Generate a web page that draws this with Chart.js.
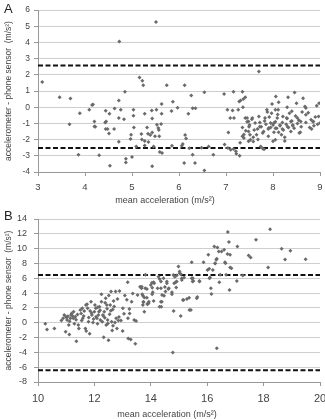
<!DOCTYPE html>
<html><head><meta charset="utf-8">
<script src="https://cdn.jsdelivr.net/npm/chart.js@4"></script>
<style>
html,body{margin:0;padding:0;background:#fff;}
body{width:325px;height:419px;position:relative;overflow:hidden;font-family:"Liberation Sans",Arial,sans-serif;}
.wrap{position:absolute;left:0;width:325px;}
.lbl{position:absolute;font-size:13px;color:#222;line-height:1;}
.xt{position:absolute;font-size:9px;color:#444;white-space:nowrap;transform:translateX(-50%);line-height:1;}
</style></head><body>
<div class="wrap" style="top:0;height:205px"><canvas id="ca" width="325" height="205"></canvas></div>
<div class="wrap" style="top:205px;height:214px"><canvas id="cb" width="325" height="214"></canvas></div>
<div class="lbl" style="left:4px;top:2px">A</div>
<div class="lbl" style="left:4px;top:209px">B</div>
<div class="xt" style="left:165px;top:196px">mean acceleration (m/s²)</div>
<div class="xt" style="left:167px;top:410px">mean acceleration (m/s²)</div>
<script>
// ---- Panel A data ----
const aX = [3.09,3.46,3.69,3.67,3.89,3.86,4.09,4.15,4.17,4.2,4.2,4.22,4.3,4.44,4.45,4.43,4.44,4.48,4.51,4.52,4.53,4.63,4.62,4.72,4.72,4.73,4.72,4.76,4.83,4.85,4.87,4.87,5.03,5.03,5.04,4.98,4.97,5.0,5.09,5.16,5.22,5.24,5.27,5.2,5.21,5.27,5.27,5.32,5.34,5.35,5.39,5.43,5.42,5.43,5.43,5.46,5.49,5.51,5.52,5.53,5.56,5.57,5.58,5.59,5.63,5.63,5.62,5.64,5.74,5.84,5.87,5.85,5.97,6.06,6.08,6.12,6.13,6.15,6.11,6.2,6.22,6.26,6.29,6.29,6.35,6.34,6.48,6.54,6.54,6.63,6.73,6.96,6.97,7.05,7.03,7.04,7.09,7.1,7.14,7.16,7.17,7.16,7.21,7.22,7.26,7.28,7.29,7.31,7.35,7.36,7.35,7.37,7.41,7.41,7.38,7.45,7.48,7.49,7.48,7.51,7.52,7.56,7.58,7.62,7.67,7.7,7.7,7.72,7.78,7.74,7.81,7.83,7.87,7.91,7.95,7.97,8.02,8.05,8.05,8.06,8.09,8.11,8.12,8.15,8.2,8.21,8.25,8.29,8.31,8.32,8.35,8.38,8.42,8.46,8.5,8.52,8.56,8.59,8.64,8.68,8.7,8.81,8.86,8.87,8.93,8.97,8.98,9.0,
7.45,7.5,7.55,7.6,7.65,7.72,7.75,7.8,7.82,7.85,7.9,7.92,7.95,8.0,8.02,8.05,8.08,8.1,8.15,8.18,8.2,8.22,8.28,8.3,8.33,8.38,8.4,8.42,8.45,8.48,8.52,8.55,8.6,8.62,8.7,8.75,8.78,8.85,8.9,8.95,7.38,7.42,7.48,7.58,7.68,7.78,7.35,7.3,7.9,8.0,8.25,8.3,8.05,7.98,7.88,8.12,8.4,8.7,8.58,8.82];
const aY = [1.56,0.62,0.54,-1.06,-0.37,-2.93,-0.16,0.13,0.17,-0.88,-1.19,-1.2,-2.97,-0.22,-0.88,-0.95,-1.35,-1.35,-1.62,-0.41,-3.61,-0.08,-1.35,0.41,-0.67,4.05,-2.13,-0.16,-0.74,0.96,-3.18,-3.42,-0.16,-0.53,-1.25,-1.7,-1.97,-3.08,-2.42,1.83,1.63,1.36,-0.41,-1.66,-1.99,-2.09,-2.36,-1.25,-1.64,-2.15,-1.72,-0.69,-0.2,-1.56,-3.65,-2.42,-1.8,5.26,-0.16,-1.08,-1.29,-1.4,-1.8,-2.77,0.19,-0.41,-1.04,-2.83,1.36,-0.24,0.33,-2.38,-0.04,-2.38,-2.27,1.36,-1.72,-1.93,-3.45,-0.41,-2.54,0.72,-0.06,-2.93,-0.06,-3.45,-2.5,0.93,-3.9,-2.42,-2.93,0.82,-2.3,-1.56,-0.16,-2.52,-0.67,-2.62,-0.2,0.95,-0.67,-2.58,-2.72,-2.87,-0.16,0.35,-2.99,0.41,0.95,0.0,-1.25,0.5,0.62,-0.67,-1.68,-0.67,-0.88,-1.2,-1.5,-1.7,-2.01,-0.67,-2.11,-0.98,-1.35,2.2,-0.57,-1.2,-1.6,-2.42,-2.6,-0.67,-0.16,-1.29,-0.98,-0.37,-0.98,-1.3,-2.01,0.66,-0.67,-0.16,-1.54,-1.1,-1.35,-0.57,-2.09,-0.67,-1.2,0.62,-0.37,-0.88,-1.15,0.91,0.25,-0.67,-1.6,-0.88,0.56,0.04,-0.47,-0.78,-0.88,-1.15,0.09,-0.57,0.25,-0.98,
-0.9,-1.1,-0.75,-1.4,-1.7,-0.95,-1.2,-1.5,-0.85,-1.05,-1.35,-0.6,-1.25,-1.1,-1.55,-0.9,-1.3,-0.45,-1.15,-1.7,-0.95,-1.4,-1.05,-0.7,-1.25,-1.5,-0.85,-1.1,-1.3,-0.55,-1.0,-0.8,-1.2,-0.3,-0.95,-0.35,-1.25,-0.9,-0.6,-1.05,-1.9,-1.45,-2.1,-1.85,-2.0,-2.55,-1.8,-2.2,-1.8,-2.1,-1.85,0.0,-0.15,0.2,-0.3,0.3,-0.25,-0.05,-1.55,-1.35];
const aLimits = [2.57, -2.52];
const aRange = [3, 9];

// ---- Panel B data ----
const bX = [10.26,10.32,10.58,10.83,10.89,10.93,10.98,10.99,11.03,11.06,11.09,11.11,11.15,11.17,11.19,11.26,11.32,11.29,11.36,11.43,11.45,11.5,11.53,11.57,11.59,11.64,11.68,11.7,11.71,11.74,11.76,11.79,11.83,11.85,11.88,11.91,11.95,11.97,12.0,12.02,12.05,12.09,12.11,12.14,12.16,12.18,12.21,12.25,12.25,12.28,12.3,12.33,12.35,12.37,12.4,12.42,12.44,12.47,12.48,12.5,12.51,12.54,12.56,12.59,12.61,12.63,12.66,12.68,12.73,12.75,12.77,12.8,12.85,12.87,12.89,12.94,13.0,13.01,13.05,13.08,13.15,13.18,13.19,13.2,13.24,13.25,13.29,13.32,13.36,13.41,13.45,13.48,13.53,13.62,13.67,13.7,13.72,13.74,13.77,13.81,13.86,13.88,13.93,14.0,14.05,14.1,14.12,14.24,14.31,14.36,14.4,14.45,14.5,14.52,14.57,14.64,14.75,14.78,14.81,14.83,14.88,14.9,14.92,14.98,15.02,15.06,15.1,15.14,15.18,15.28,15.37,15.45,15.49,15.51,15.63,15.73,15.87,16.01,16.04,16.08,16.13,16.15,16.2,16.25,16.28,16.32,16.34,16.36,16.41,16.46,16.51,16.6,16.65,16.67,16.73,16.77,16.79,16.81,16.86,17.05,17.07,17.26,17.47,17.54,17.73,18.16,18.23,18.64,18.76,18.95,19.49,
13.68,13.72,13.8,13.86,13.74,13.88,13.77,13.92,14.04,14.05,14.07,14.1,14.27,14.31,14.36,14.36,14.39,14.37,14.47,14.57,14.62,14.75,14.8,14.85,14.92,15.1,15.02,15.07,15.16,15.36,15.42,15.65,15.45,15.48,15.72,16.07,16.1,16.28,16.34,16.63,16.72,16.81,16.43,
11.02,11.12,11.22,11.35,11.4,11.62,11.8,11.9,12.06,12.12,12.2,12.32,12.45,12.58,12.7,12.82,11.55,11.25,12.38,12.65];
const bY = [-0.14,-0.9,-0.77,0.31,0.59,1.04,-1.22,0.81,0.36,0.86,-0.32,-1.58,0.59,1.04,1.26,1.49,0.81,-0.14,-2.49,-0.32,-0.77,1.71,1.26,1.94,0.59,1.58,-0.77,2.39,-1.13,2.48,1.94,0.13,-1.49,1.58,2.84,1.04,0.04,0.5,1.49,2.39,1.94,0.59,-0.14,1.04,1.49,2.17,0.36,3.84,2.84,0.13,1.04,-1.95,1.49,0.68,3.3,-0.32,2.39,0.36,-0.09,-2.35,3.66,1.13,2.39,4.2,0.13,-1.04,-0.41,2.93,0.04,4.2,0.59,-0.77,0.31,0.77,4.29,0.31,-1.13,1.94,1.22,3.66,3.11,5.46,0.59,-2.12,1.85,1.26,-2.26,2.84,3.93,0.36,-2.85,0.22,3.75,4.87,4.65,3.84,2.39,2.84,3.39,6.46,4.56,2.57,2.84,5.1,3.84,5.46,5.33,4.65,2.17,2.84,3.75,6.01,4.83,4.2,5.55,4.65,3.84,-4.02,1.58,5.33,5.46,4.74,6.37,7.59,6.68,0.9,5.78,3.07,6.1,3.2,1.71,8.17,6.01,5.64,3.3,5.55,8.17,7.13,9.17,6.01,4.65,3.88,7.13,10.3,7.99,8.49,-3.45,10.16,9.62,6.46,9.62,9.84,8.04,6.46,12.24,10.88,4.42,9.17,7.36,5.64,10.3,6.37,9.08,8.81,11.2,7.45,12.6,9.97,8.53,9.7,8.58,
4.87,3.65,4.65,3.38,2.75,2.48,1.48,2.62,5.41,4.73,4.1,2.93,6.22,5.91,5.55,4.65,2.84,2.16,3.65,5.33,4.56,4.1,6.45,6.22,5.55,6.0,6.9,6.55,3.06,3.38,1.71,3.47,6.0,5.55,5.64,7.27,6.09,8.04,8.62,8.17,9.26,7.44,5.46,
0.7,0.2,0.95,0.4,1.1,0.9,0.7,1.3,0.8,2.1,1.7,0.9,1.9,1.6,2.2,3.2,0.3,0.6,2.7,1.8];
const bLimits = [6.45, -6.42];
const bRange = [10, 20];

const pts = (xs, ys) => xs.map((x, i) => ({ x: x, y: ys[i] }));
const hline = (v, r) => [{ x: r[0], y: v }, { x: r[1], y: v }];

const TXT = '#444';
const FONT = '"Liberation Sans", Arial, sans-serif';

function makeChart(id, xs, ys, limits, range, cfg) {
  const ds = [{
    type: 'scatter', data: pts(xs, ys),
    pointStyle: 'rectRot', pointRadius: 2, pointBorderWidth: 0,
    backgroundColor: '#6a6a6a', borderColor: '#6a6a6a'
  }];
  limits.forEach(v => ds.push({
    type: 'line', data: hline(v, range), borderColor: '#111', borderWidth: 2,
    borderDash: [5, 2.5], pointRadius: 0, fill: false
  }));
  return new Chart(document.getElementById(id), {
    type: 'scatter',
    data: { datasets: ds },
    options: {
      responsive: false, animation: false,
      layout: { padding: { left: 0, right: cfg.padRight, top: cfg.padTop, bottom: 0 } },
      plugins: { legend: { display: false }, tooltip: { enabled: false } },
      scales: {
        x: {
          type: 'linear', min: range[0], max: range[1],
          ticks: { stepSize: cfg.xStep, color: TXT, font: { family: FONT, size: cfg.xFont }, padding: cfg.xPad, maxRotation: 0 },
          grid: { drawOnChartArea: false, drawTicks: true, tickLength: 4, tickColor: '#999' },
          border: { color: '#999', width: 1 },
          afterFit: s => { s.height = cfg.xH; s.paddingRight = 0; s.paddingLeft = 0; }
        },
        y: {
          min: cfg.yMin, max: cfg.yMax,
          ticks: { stepSize: cfg.yStep, color: TXT, font: { family: FONT, size: cfg.yFont }, padding: cfg.yPad },
          grid: { color: '#cfcfcf', lineWidth: 1, tickLength: 4, tickColor: '#999' },
          border: { color: '#999', width: 1 },
          title: { display: true, text: 'accelerometer - phone sensor  (m/s²)', color: TXT, font: { family: FONT, size: 8.5 }, padding: { top: 4, bottom: 0 } },
          afterFit: s => { s.width = 38; }
        }
      }
    }
  });
}

makeChart('ca', aX, aY, aLimits, aRange, { padRight: 5, padTop: 10, xStep: 1, xFont: 9.5, xPad: 6, xH: 33, yMin: -4, yMax: 6, yStep: 1, yFont: 8.5, yPad: 4 });
makeChart('cb', bX, bY, bLimits, bRange, { padRight: 5, padTop: 14, xStep: 2, xFont: 11, xPad: 6, xH: 37, yMin: -8, yMax: 14, yStep: 2, yFont: 9, yPad: 7 });
</script>
</body></html>
